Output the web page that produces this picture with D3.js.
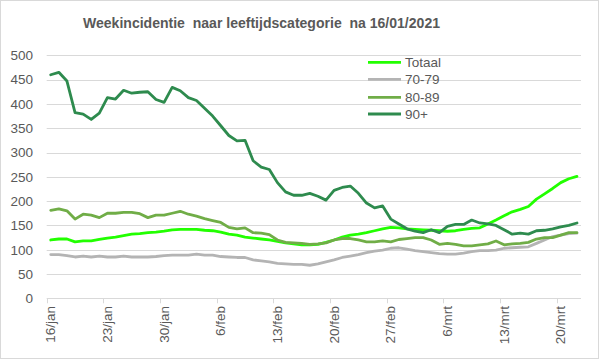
<!DOCTYPE html>
<html><head><meta charset="utf-8">
<script src="https://cdn.jsdelivr.net/npm/d3@7"></script>
<style>body{margin:0;background:#fff}svg{display:block}</style>
</head><body><svg id="c" width="599" height="359"></svg>
<script>
const title = "Weekincidentie  naar leeftijdscategorie  na 16/01/2021";
const seriesNames = ["Totaal", "70-79", "80-89", "90+"];
const seriesColors = ["#22ff00", "#b4b4b4", "#70ad47", "#2e8b4e"];
const yTicks = [0, 50, 100, 150, 200, 250, 300, 350, 400, 450, 500];
const monthNames = ["jan", "feb", "mrt"];
const startDate = new Date(2021, 0, 16);

const totaal = [120,122,122,116,118,118,121,124,126,129,132,133,135,136,138,141,142,142,142,140,
  139,136,132,130,126,124,122,120,117,114,112,110,110,111,115,120,126,130,132,135,
  139,143,146,145,143,142,141,140,139,138,139,142,144,145,153,161,170,178,183,189,
  204,215,226,238,246,251];
const s7079 = [90,90,88,85,87,85,87,85,85,87,85,85,85,86,88,89,89,89,91,89,
  89,86,85,84,84,79,77,75,72,71,70,70,68,71,75,79,84,87,90,94,
  97,99,103,104,101,98,96,94,92,91,91,93,96,98,98,99,103,104,105,106,
  113,120,127,130,133,134];
const s8089 = [181,184,180,163,173,171,166,175,175,177,177,174,166,171,171,175,179,173,169,164,
  160,156,146,143,145,135,134,131,120,115,114,113,111,112,114,120,123,123,120,116,
  116,118,116,121,123,125,125,120,111,113,111,108,108,110,112,118,110,112,113,115,
  122,125,125,130,135,135];
const s90 = [460,465,447,382,379,368,381,413,410,428,422,424,425,409,403,434,427,413,407,391,
  375,355,335,324,325,283,270,265,238,219,212,212,216,210,202,222,228,231,216,196,
  186,190,163,153,143,138,135,141,135,148,152,152,161,155,153,150,141,132,134,132,
  139,140,143,147,150,155];
const allSeries = [totaal, s7079, s8089, s90];

const dates = totaal.map((_, i) => d3.timeDay.offset(startDate, i));
const fmt = d => d.getDate() + "/" + monthNames[d.getMonth()];

const svg = d3.select("#c");
const font = "'Liberation Sans', Arial, sans-serif";
const txt = "#595959";

svg.append("rect").attr("x",0.5).attr("y",0.5).attr("width",598).attr("height",358)
  .attr("fill","#fff").attr("stroke","#d9d9d9");

const L = 46.7, R = 581, T = 55.3, B = 298.3;
const x = d3.scaleBand().domain(d3.range(dates.length)).range([L, R]).padding(0);
const y = d3.scaleLinear().domain([0, 500]).range([B, T]);
const cx = i => x(i) + x.bandwidth() / 2;

// gridlines
svg.append("g").selectAll("line").data(yTicks).join("line")
  .attr("x1", L).attr("x2", R)
  .attr("y1", d => Math.round(y(d)) + 0.5).attr("y2", d => Math.round(y(d)) + 0.5)
  .attr("stroke", "#d9d9d9").attr("stroke-width", 1);

// y labels
svg.append("g").selectAll("text").data(yTicks).join("text")
  .attr("x", 33).attr("y", d => y(d) + 4.8)
  .attr("text-anchor", "end").attr("font-family", font).attr("font-size", 13.5)
  .attr("fill", txt).text(d => d);

// x ticks at band boundaries every 7 days
const tickIdx = d3.range(0, dates.length, 7);
svg.append("g").selectAll("line").data(tickIdx).join("line")
  .attr("x1", i => Math.round(x(i)) + 0.5).attr("x2", i => Math.round(x(i)) + 0.5)
  .attr("y1", B).attr("y2", B + 5).attr("stroke", "#d9d9d9");
svg.append("g").selectAll("text").data(tickIdx).join("text")
  .attr("transform", i => `translate(${cx(i) + 4.5},306) rotate(-90)`)
  .attr("text-anchor", "end").attr("font-family", font).attr("font-size", 13.5)
  .attr("fill", txt).text(i => fmt(dates[i]));

// lines
const line = d3.line().x((d, i) => cx(i)).y(d => y(d));
allSeries.forEach((s, k) => {
  svg.append("path").datum(s).attr("d", line).attr("fill", "none")
    .attr("stroke", seriesColors[k]).attr("stroke-width", 2.8)
    .attr("stroke-linejoin", "round").attr("stroke-linecap", "round");
});

// legend
const legY = [62.3, 79.3, 97.3, 114];
seriesNames.forEach((n, k) => {
  svg.append("line").attr("x1", 368).attr("x2", 401).attr("y1", legY[k]).attr("y2", legY[k])
    .attr("stroke", seriesColors[k]).attr("stroke-width", 2.8);
  svg.append("text").attr("x", 405).attr("y", legY[k] + 4.8)
    .attr("font-family", font).attr("font-size", 13.5).attr("fill", txt).text(n);
});

// title
svg.append("text").attr("x", 261.5).attr("y", 28).attr("text-anchor", "middle")
  .attr("font-family", font).attr("font-size", 15).attr("font-weight", "bold")
  .attr("fill", txt).attr("textLength", 357).attr("lengthAdjust", "spacingAndGlyphs")
  .style("white-space", "pre").attr("xml:space", "preserve")
  .text(title);
</script></body></html>
